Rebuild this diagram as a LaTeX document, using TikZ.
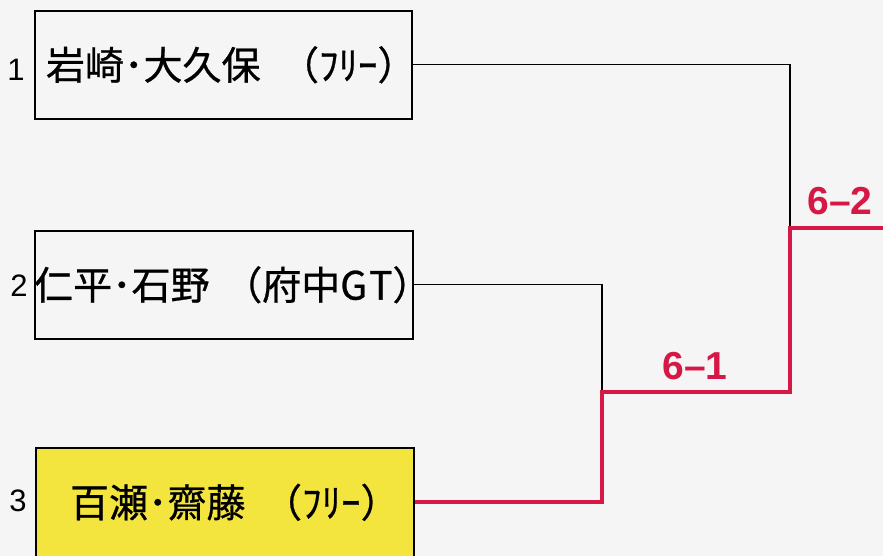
\documentclass[tikz,border=0pt]{standalone}
\usepackage{fontspec}
\setmainfont{Liberation Sans}
\newfontfamily\jp[FakeBold=0.7]{Noto Sans CJK JP}
\definecolor{winred}{RGB}{214,24,70}
\definecolor{boxyellow}{RGB}{243,229,62}
\definecolor{paper}{RGB}{245,245,245}
\newcommand{\entrytext}[2]{\makebox[0pt][c]{\hspace{#1}#2}}
\begin{document}
\begin{tikzpicture}[x=1pt,y=-1pt,
  entry/.style={draw=black, line width=1.6pt, anchor=north west, inner sep=0pt,
    minimum height=108pt, font=\jp\fontsize{39}{39}\selectfont},
  seed/.style={font=\fontsize{31}{31}\selectfont, inner sep=0pt},
  score/.style={font=\bfseries\fontsize{39}{39}\selectfont, text=winred, inner sep=0pt},
  loser/.style={draw=black, line width=1.3pt},
  winner/.style={draw=winred, line width=3.8pt}]
\clip (0,0) rectangle (883,556);
\fill[paper] (0,0) rectangle (883,556);
% entries
\node[entry, minimum width=377pt] (b1) at (34,10) {\entrytext{16pt}{岩崎･大久保\hspace{0.5em}（ﾌﾘｰ）}};
\node[entry, minimum width=378pt] (b2) at (34,230) {\entrytext{18pt}{仁平･石野\hspace{0.35em}（府中G\hspace{0.05em}T）}};
\node[entry, minimum width=378pt, minimum height=109pt, fill=boxyellow] (b3) at (35,447) {\entrytext{20pt}{百瀬･齋藤\hspace{0.45em}（ﾌﾘｰ）}};
% seeds
\node[seed] (s1) at (16,70) {1};
\node[seed] (s2) at (19,286) {2};
\node[seed] (s3) at (18,501) {3};
% junctions
\coordinate (m2) at (602,392);
\coordinate (m1) at (790,228);
\coordinate (out) at (884,228);
% connectors
\draw[loser] (b1.east) -| (m1);
\draw[loser] (b2.east) -| (m2);
\draw[winner] (b3.east) -| (m2) -| (m1) -- (out);
% scores
\node[score] (r1) at (695,366) {6–1};
\node[score] (r2) at (840,201) {6–2};
\end{tikzpicture}
\end{document}
